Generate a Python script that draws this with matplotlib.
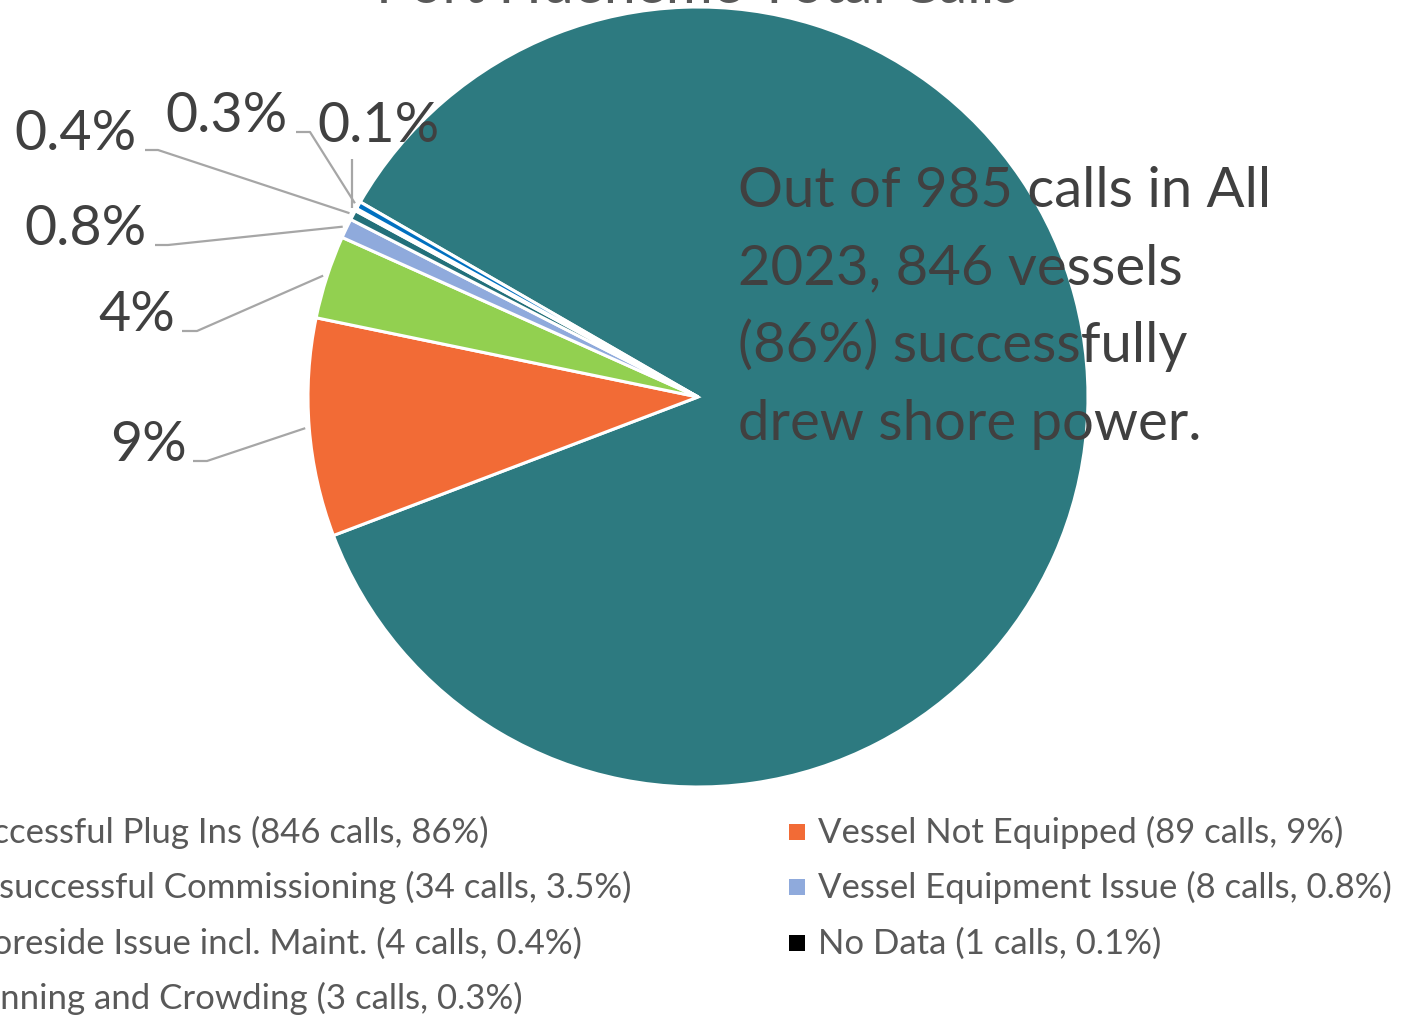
import matplotlib
matplotlib.use("Agg")
import matplotlib.pyplot as plt
import numpy as np

W, H = 1408, 1018

# ---------------- data ----------------
categories = ["Successful Plug Ins", "Vessel Not Equipped", "Unsuccessful Commissioning",
              "Vessel Equipment Issue", "Shoreside Issue incl. Maint.", "No Data",
              "Planning and Crowding"]
calls = [846, 89, 34, 8, 4, 1, 3]
legend_pcts = ["86%", "9%", "3.5%", "0.8%", "0.4%", "0.1%", "0.3%"]
slice_labels = [None, "9%", "4%", "0.8%", "0.4%", "0.1%", "0.3%"]
colors = ["#2D7A80", "#F26B36", "#92D050", "#8FAADC", "#23707A", "#000000", "#0070C0"]
title = "Port Hueneme Total Calls"
note_lines = ["Out of 985 calls in All", "2023, 846 vessels", "(86%) successfully",
              "drew shore power."]

FONT = ["Lato", "DejaVu Sans"]
plt.rcParams["font.family"] = FONT

fig = plt.figure(figsize=(W / 100, H / 100), dpi=100)
ax = fig.add_axes([0, 0, 1, 1])

cx, cy, R = 698, H - 397, 390
wedges, _ = ax.pie(calls, colors=colors, startangle=150, counterclock=False,
                   center=(cx, cy), radius=R, frame=True,
                   wedgeprops=dict(edgecolor="white", linewidth=2.2))
ax.set_xlim(0, W)
ax.set_ylim(0, H)
ax.set_aspect("equal")
ax.axis("off")

# title (mostly cropped off the top, as in the reference)
ax.text(698, H - 3, title, ha="center", va="baseline", fontsize=41, color="#595959")

# percentage labels with leader lines: (text right x, baseline y (px from top), elbow)
label_layout = {
    1: (187, 461, [(193, 461), (207, 461)]),
    2: (175, 331, [(182, 331), (197, 331)]),
    3: (147, 245, [(155, 245), (168, 245)]),
    4: (137, 150, [(145, 150), (158, 150)]),
    5: (440, 142, None),
    6: (288, 132, [(296, 132), (310, 132)]),
}
for i, (xr, yb, elbow) in label_layout.items():
    ax.text(xr, H - yb, slice_labels[i], ha="right", va="baseline",
            fontsize=40, color="#404040")
    w = wedges[i]
    mid = np.deg2rad((w.theta1 + w.theta2) / 2)
    ex, ey = cx + (R + 4) * np.cos(mid), cy + (R + 4) * np.sin(mid)
    if elbow is None:
        pts = [(ex, H - 159), (ex, ey)]
    else:
        pts = [(x, H - y) for x, y in elbow] + [(ex, ey)]
    xs, ys = zip(*pts)
    ax.plot(xs, ys, color="#A6A6A6", lw=1.6, solid_capstyle="butt")

# annotation text
for k, line in enumerate(note_lines):
    ax.text(738, H - (207 + 77.5 * k), line, ha="left", va="baseline",
            fontsize=40.5, color="#404040")

# legend (2 columns, row-major, left column partially cropped)
col_text_x = [-46, 818]
row_base = [843, 898, 954, 1009]
for i, (cat, n, p, c) in enumerate(zip(categories, calls, legend_pcts, colors)):
    r, col = divmod(i, 2)
    tx = col_text_x[col]
    yb = row_base[r]
    ax.scatter([tx - 21], [H - (yb - 11)], marker="s", s=120, color=c, linewidths=0,
               clip_on=False)
    ax.text(tx, H - yb, f"{cat} ({n} calls, {p})", ha="left", va="baseline",
            fontsize=25, color="#595959")

fig.savefig("out.png", dpi=100)
